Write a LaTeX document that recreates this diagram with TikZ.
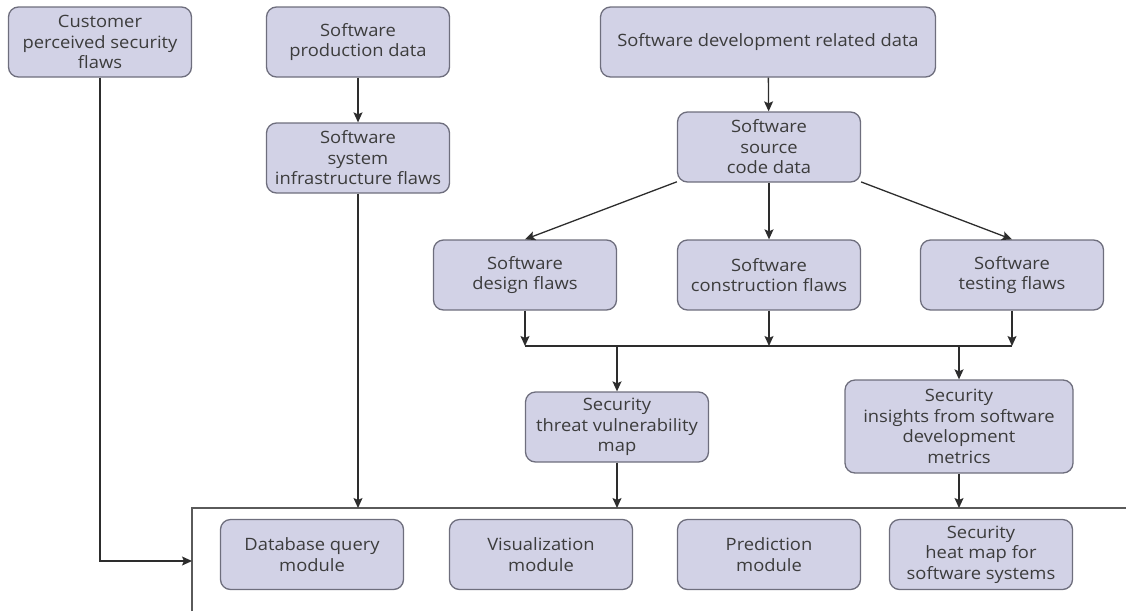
\documentclass[tikz,border=0pt]{standalone}
\usepackage{fontspec}
\setmainfont{Open Sans}[FakeStretch=1.08]
\usetikzlibrary{arrows.meta}
\definecolor{boxfill}{RGB}{210,210,230}
\definecolor{boxline}{RGB}{110,110,125}
\definecolor{wire}{RGB}{45,45,45}
\definecolor{frame}{RGB}{90,90,90}
\definecolor{ink}{RGB}{60,60,60}
\tikzset{
  flowbox/.style={draw=boxline, fill=boxfill, line width=1.3pt, rounded corners=10pt,
    minimum width=183pt, minimum height=70pt, inner sep=0pt, align=center,
    text=ink, font=\fontsize{17}{20.5}\selectfont},
  link/.style={draw=wire, line width=1.3pt,
    -{Stealth[length=10pt,width=9pt,inset=2pt]}},
  plain/.style={draw=wire, line width=1.3pt},
  framing/.style={draw=frame, line width=1.3pt}
}
\begin{document}
\begin{tikzpicture}[x=1pt,y=-1pt]
\useasboundingbox (0,0) rectangle (1126,611);

% top row sources
\node[flowbox] (cust) at (100,42) {Customer\\perceived security\\flaws};
\node[flowbox] (prod) at (358,42) {Software\\production data};
\node[flowbox, minimum width=335pt] (dev) at (768,42) {Software development related data};

% derived data
\node[flowbox] (infra) at (358,158) {Software\\system\\infrastructure flaws};
\node[flowbox] (src) at (769,147) {Software\\source\\code data};

% flaw categories
\node[flowbox] (design) at (525,275) {Software\\design flaws};
\node[flowbox] (constr) at (769,275) {Software\\construction flaws};
\node[flowbox] (test) at (1012,275) {Software\\testing flaws};

% security outputs
\node[flowbox] (threat) at (617,427) {Security\\threat vulnerability\\map};
\node[flowbox, minimum width=228pt, minimum height=93pt] (insight) at (959,426.5)
  {Security\\insights from software\\development\\metrics};

% module container (open to the right and bottom)
\coordinate (cTL) at (192,508);
\coordinate (cTR) at (1126,508);
\coordinate (cBL) at (192,611);
\draw[framing] (cBL) -- (cTL) -- (cTR);

\node[flowbox] (dbq) at (312,554.5) {Database query\\module};
\node[flowbox] (viz) at (541,554.5) {Visualization\\module};
\node[flowbox] (pred) at (769,554.5) {Prediction\\module};
\node[flowbox] (heat) at (981,554.5) {Security\\heat map for\\software systems};

% bus joining the three flaw categories
\coordinate (busL) at (525,346);
\coordinate (busM) at (769,346);
\coordinate (busR) at (1012,346);
\coordinate (tapA) at (617,346);
\coordinate (tapB) at (959,346);
\draw[plain] (busL) -- (busR);

% connectors
\draw[link] (prod) -- (infra);
\draw[link] (dev) -- (src);
\draw[link] (src) -- (design.north);
\draw[link] (src) -- (constr);
\draw[link] (src) -- (test.north);
\draw[link] (design) -- (busL);
\draw[link] (constr) -- (busM);
\draw[link] (test) -- (busR);
\draw[link] (tapA) -- (threat);
\draw[link] (tapB) -- (insight);

\coordinate (inInfra) at (358,508);
\coordinate (inThreat) at (617,508);
\coordinate (inInsight) at (959,508);
\coordinate (corner) at (100,561);
\coordinate (inCust) at (192,561);
\draw[link] (infra) -- (inInfra);
\draw[link] (threat) -- (inThreat);
\draw[link] (insight) -- (inInsight);
\draw[link] (cust) -- (corner) -- (inCust);
\end{tikzpicture}
\end{document}
